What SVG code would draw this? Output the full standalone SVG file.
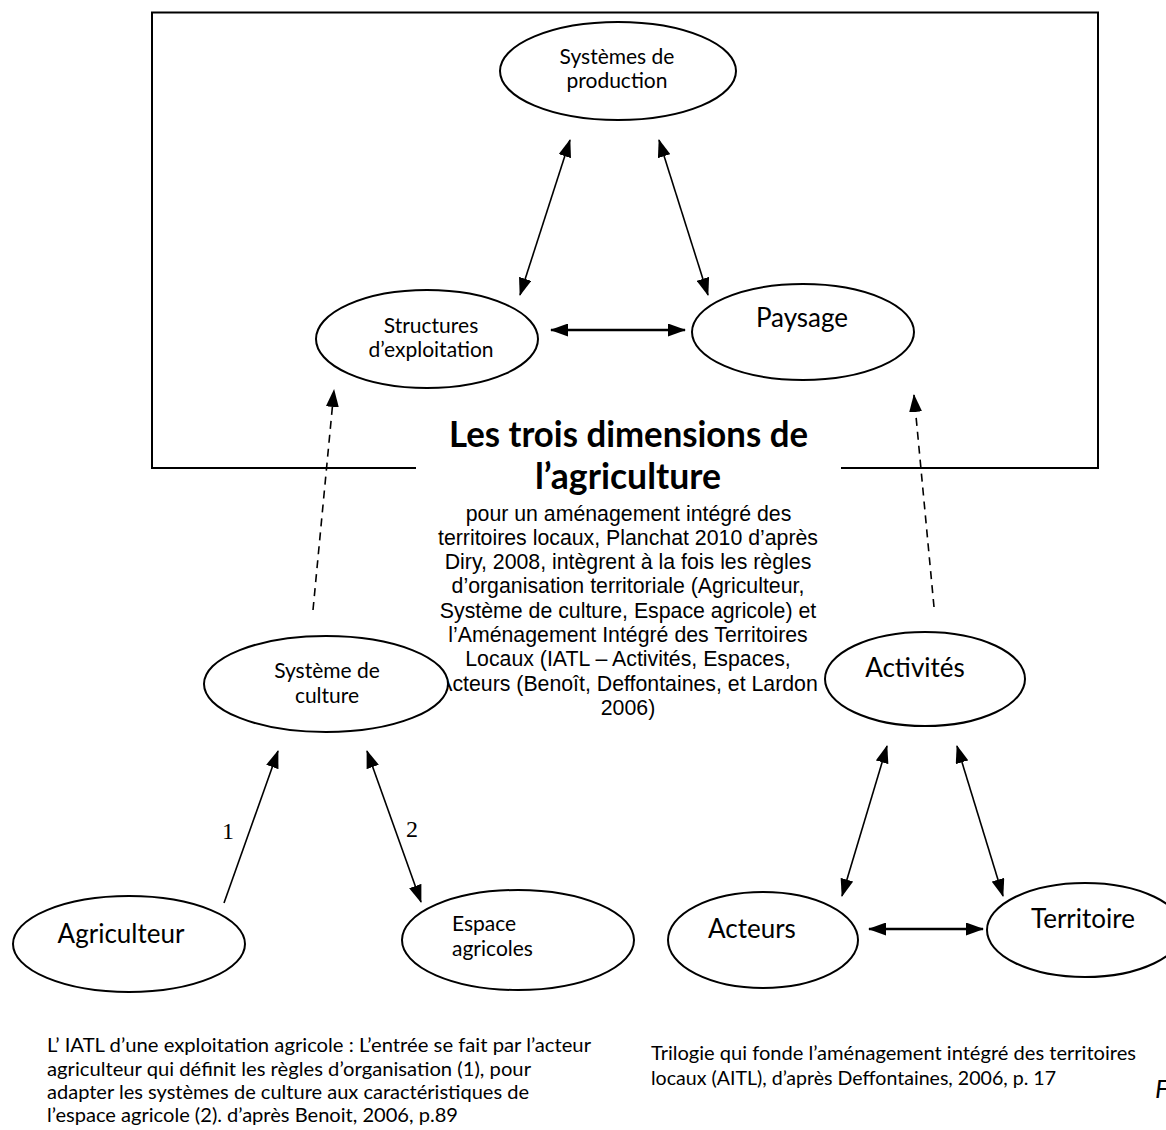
<svg xmlns="http://www.w3.org/2000/svg" width="1166" height="1130" viewBox="0 0 1166 1130">
<defs>
<marker id="ah" viewBox="0 0 18 13" refX="17" refY="6.5" markerWidth="18" markerHeight="13" markerUnits="userSpaceOnUse" orient="auto-start-reverse">
<path d="M0,0 L18,6.5 L0,13 z" fill="#000"/>
</marker>
<style>
.node ellipse{fill:#fff;stroke:#000;stroke-width:2}
.lbl{font-family:Lato,"Open Sans","Liberation Sans",sans-serif;fill:#000;text-anchor:middle}
.s21{font-size:21px}
.s26{font-size:26px}
.conn line{stroke:#000;stroke-width:1.6;fill:none}
.conn .thick{stroke-width:2.6}
.conn .dash{stroke-dasharray:8 6}
.both{marker-start:url(#ah);marker-end:url(#ah)}
.end{marker-end:url(#ah)}
.title{font-family:Lato,"Open Sans","Liberation Sans",sans-serif;font-weight:bold;font-size:36px;text-anchor:middle}
.sub{font-family:"Liberation Sans",Arial,sans-serif;font-size:21.3px;text-anchor:middle}
.cap{font-family:Lato,"Open Sans","Liberation Sans",sans-serif;font-size:20px}
.num{font-family:"Liberation Serif","Times New Roman",serif;font-size:24px;text-anchor:middle}
</style>
</defs>
<rect width="1166" height="1130" fill="#fff"/>

<g id="frame">
<path d="M416,468 H152 V12.5 H1098 V468 H841" fill="none" stroke="#000" stroke-width="2"/>
</g>

<g id="title">
<text class="title" x="628.5" y="447" textLength="359" lengthAdjust="spacingAndGlyphs">Les trois dimensions de</text>
<text class="title" x="628" y="489" textLength="186" lengthAdjust="spacingAndGlyphs">l’agriculture</text>
<text class="sub" x="628.5" y="520.5">pour un aménagement intégré des</text>
<text class="sub" x="628" y="544.8">territoires locaux, Planchat 2010 d’après</text>
<text class="sub" x="628" y="569.1">Diry, 2008, intègrent à la fois les règles</text>
<text class="sub" x="628" y="593.4">d’organisation territoriale (Agriculteur,</text>
<text class="sub" x="628" y="617.7">Système de culture, Espace agricole) et</text>
<text class="sub" x="628" y="642">l’Aménagement Intégré des Territoires</text>
<text class="sub" x="628" y="666.3">Locaux (IATL – Activités, Espaces,</text>
<text class="sub" x="628" y="690.6">Acteurs (Benoît, Deffontaines, et Lardon</text>
<text class="sub" x="628" y="714.9">2006)</text>
</g>

<g id="connectors" class="conn">
<line class="both" x1="520" y1="295" x2="570" y2="140"/>
<line class="both" x1="659" y1="140" x2="708" y2="295"/>
<line class="both thick" x1="551" y1="330" x2="685" y2="330"/>
<line class="end dash" x1="313" y1="610" x2="334" y2="390"/>
<line class="end dash" x1="934" y1="607" x2="914" y2="395"/>
<line class="end" x1="224" y1="903" x2="278" y2="751"/>
<line class="both" x1="367" y1="751" x2="421" y2="902"/>
<line class="both" x1="842" y1="896" x2="887" y2="746"/>
<line class="both" x1="957" y1="746" x2="1003" y2="896"/>
<line class="both thick" x1="869" y1="929" x2="983" y2="929"/>
<text class="num" x="228" y="839">1</text>
<text class="num" x="412" y="837">2</text>
</g>

<g id="n-systemes-production" class="node">
<ellipse cx="618" cy="71" rx="118" ry="49"/>
<text class="lbl s21" x="617" y="64">Systèmes de</text>
<text class="lbl s21" x="617" y="88">production</text>
</g>
<g id="n-structures" class="node">
<ellipse cx="427" cy="339" rx="111" ry="49"/>
<text class="lbl s21" x="431" y="333">Structures</text>
<text class="lbl s21" x="431" y="357">d’exploitation</text>
</g>
<g id="n-paysage" class="node">
<ellipse cx="803" cy="332" rx="111" ry="48"/>
<text class="lbl s26" x="802" y="327">Paysage</text>
</g>
<g id="n-systeme-culture" class="node">
<ellipse cx="326" cy="684" rx="122" ry="48"/>
<text class="lbl s21" x="327" y="678">Système de</text>
<text class="lbl s21" x="327" y="703">culture</text>
</g>
<g id="n-activites" class="node">
<ellipse cx="925" cy="679" rx="100" ry="47"/>
<text class="lbl s26" x="915" y="677">Activités</text>
</g>
<g id="n-agriculteur" class="node">
<ellipse cx="129" cy="944" rx="116" ry="48"/>
<text class="lbl s26" x="121" y="943">Agriculteur</text>
</g>
<g id="n-espace" class="node">
<ellipse cx="518" cy="940" rx="116" ry="50"/>
<text class="lbl s21" x="452" y="931" style="text-anchor:start">Espace</text>
<text class="lbl s21" x="452" y="956" style="text-anchor:start">agricoles</text>
</g>
<g id="n-acteurs" class="node">
<ellipse cx="763" cy="940" rx="95" ry="48"/>
<text class="lbl s26" x="752" y="938">Acteurs</text>
</g>
<g id="n-territoire" class="node">
<ellipse cx="1085" cy="930" rx="98" ry="47"/>
<text class="lbl s26" x="1083" y="928">Territoire</text>
</g>

<g id="captions">
<text class="cap" x="47" y="1052" textLength="544" lengthAdjust="spacingAndGlyphs">L’ IATL d’une exploitation agricole : L’entrée se fait par l’acteur</text>
<text class="cap" x="47" y="1076" textLength="484" lengthAdjust="spacingAndGlyphs">agriculteur qui définit les règles d’organisation (1), pour</text>
<text class="cap" x="47" y="1099" textLength="482" lengthAdjust="spacingAndGlyphs">adapter les systèmes de culture aux caractéristiques de</text>
<text class="cap" x="47" y="1122" textLength="411" lengthAdjust="spacingAndGlyphs">l’espace agricole (2). d’après Benoit, 2006, p.89</text>
<text class="cap" x="651" y="1060" textLength="485" lengthAdjust="spacingAndGlyphs">Trilogie qui fonde l’aménagement intégré des territoires</text>
<text class="cap" x="651" y="1085" textLength="405" lengthAdjust="spacingAndGlyphs">locaux (AITL), d’après Deffontaines, 2006, p. 17</text>
<text class="cap" x="1155" y="1098" style="font-style:italic;font-size:26px">F</text>
</g>
</svg>
